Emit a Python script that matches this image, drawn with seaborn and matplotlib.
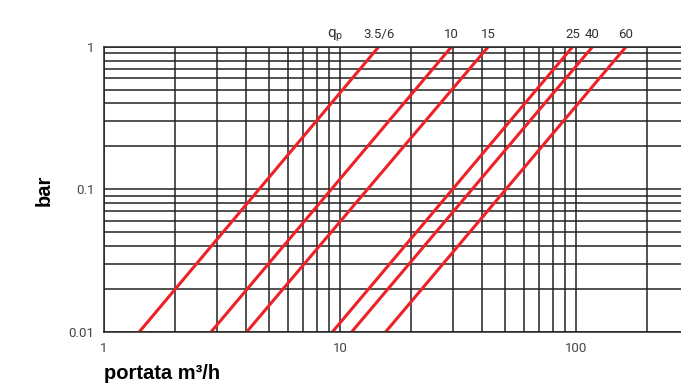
import pandas as pd
import matplotlib.pyplot as plt
from matplotlib.ticker import FixedLocator, NullFormatter
import seaborn as sns

# meter sizes (qp) and flow read at 0.01 bar and at 1 bar
meters = ["3.5/6", "10", "15", "25", "40", "60"]
q_low = [1.41, 2.84, 4.02, 9.28, 11.2, 15.6]
q_high = [14.6, 29.7, 42.5, 96.8, 117.5, 163.0]
dp_low = 0.01
dp_high = 1.0

x_ticks = [1, 10, 100]
x_ticklabels = ["1", "10", "100"]
y_ticks = [0.01, 0.1, 1]
y_ticklabels = ["0.01", "0.1", "1"]

df = pd.DataFrame({
    "meter": meters + meters,
    "q": q_low + q_high,
    "dp": [dp_low] * len(meters) + [dp_high] * len(meters),
})

sns.set_style("white")
plt.rcParams['font.family'] = ['Roboto', 'DejaVu Sans']
plt.rcParams['mathtext.fontset'] = 'custom'
plt.rcParams['mathtext.rm'] = 'Roboto'

fig = plt.figure(figsize=(6.81, 3.83), dpi=100)
ax = fig.add_axes([104 / 681, 51 / 383, (688.6 - 104) / 681, (332 - 46.7) / 383])

sns.lineplot(data=df, x="q", y="dp", units="meter", estimator=None, sort=False,
             color="#ec2227", linewidth=2.2, ax=ax)

ax.set_xscale("log")
ax.set_yscale("log")
ax.set_xlim(1, 300)
ax.set_ylim(0.01, 1)

# grid lines at 2..9 of every decade
x_minor = [m * d for d in (1, 10, 100) for m in range(2, 10)]
y_minor = [m * d for d in (0.01, 0.1) for m in range(2, 10)]
ax.xaxis.set_major_locator(FixedLocator(x_ticks))
ax.xaxis.set_minor_locator(FixedLocator(x_minor))
ax.yaxis.set_major_locator(FixedLocator(y_ticks))
ax.yaxis.set_minor_locator(FixedLocator(y_minor))
ax.set_xticklabels(x_ticklabels)
ax.set_yticklabels(y_ticklabels)
ax.xaxis.set_minor_formatter(NullFormatter())
ax.yaxis.set_minor_formatter(NullFormatter())

ax.set_axisbelow(True)
ax.grid(which="both", color="#222222", linewidth=1.1)
ax.tick_params(which="both", length=0, labelsize=9.5, labelcolor="#444444", pad=7)
for s in ax.spines.values():
    s.set_color("#222222")
    s.set_linewidth(1.1)
ax.set_xlabel("")
ax.set_ylabel("")

# labels over the line ends
for m, qh in zip(meters, q_high):
    ax.annotate(m, (qh, dp_high), xytext=(0, 6), textcoords="offset points",
                ha="center", va="baseline", fontsize=9.5, color="#333333",
                annotation_clip=False)
ax.annotate("q$_\\mathrm{p}$", (9.5, dp_high), xytext=(0, 7), textcoords="offset points",
            ha="center", va="baseline", fontsize=11, color="#333333",
            annotation_clip=False)

fig.text(104 / 681, 4 / 383, "portata m³/h", fontsize=14.5, fontweight="bold",
         family="Liberation Sans", color="black", ha="left", va="baseline")
fig.text(44 / 681, 1 - 190 / 383, "bar", fontsize=14.5, fontweight="bold",
         family="Liberation Sans", color="black", rotation=90, ha="center", va="center")

fig.savefig("out.png", dpi=100)
